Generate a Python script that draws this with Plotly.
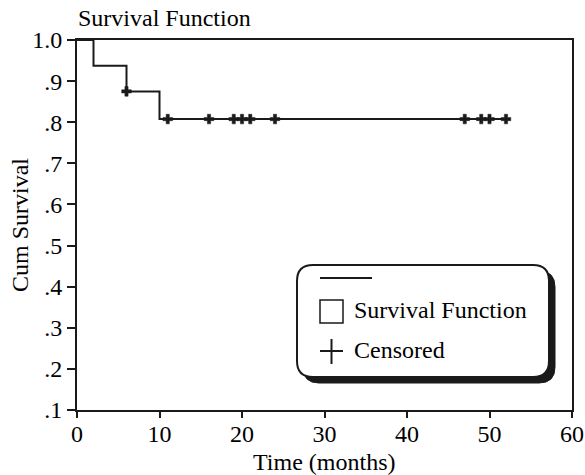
import plotly.graph_objects as go

# ---- data ----
step_time = [0, 2, 6, 10, 52]
step_surv = [1.0, 0.9375, 0.875, 0.8077, 0.8077]
censor_time = [6, 11, 16, 19, 20, 21, 24, 47, 49, 50, 52]
censor_surv = [0.875, 0.8077, 0.8077, 0.8077, 0.8077, 0.8077, 0.8077, 0.8077, 0.8077, 0.8077, 0.8077]
x_ticks = [0, 10, 20, 30, 40, 50, 60]
y_ticks = [0.1, 0.2, 0.3, 0.4, 0.5, 0.6, 0.7, 0.8, 0.9, 1.0]
y_ticktext = [".1", ".2", ".3", ".4", ".5", ".6", ".7", ".8", ".9", "1.0"]

W, H = 585, 475
L, R, T, B = 77, 13, 40, 65
PW, PH = W - L - R, H - T - B
FONT = "Liberation Serif"
FS = 24
INK = "#1a1a1a"


def px(p):
    return (p - L) / PW


def py(p):
    return (H - B - p) / PH


def rrect(x0, y0, x1, y1, r):
    pts = [
        f"M {px(x0 + r)},{py(y0)}",
        f"L {px(x1 - r)},{py(y0)}",
        f"Q {px(x1)},{py(y0)} {px(x1)},{py(y0 + r)}",
        f"L {px(x1)},{py(y1 - r)}",
        f"Q {px(x1)},{py(y1)} {px(x1 - r)},{py(y1)}",
        f"L {px(x0 + r)},{py(y1)}",
        f"Q {px(x0)},{py(y1)} {px(x0)},{py(y1 - r)}",
        f"L {px(x0)},{py(y0 + r)}",
        f"Q {px(x0)},{py(y0)} {px(x0 + r)},{py(y0)}",
        "Z",
    ]
    return " ".join(pts)


fig = go.Figure()
fig.add_trace(go.Scatter(
    x=step_time, y=step_surv, mode="lines", line_shape="hv",
    line=dict(color=INK, width=2), showlegend=False, hoverinfo="skip",
))
fig.add_trace(go.Scatter(
    x=censor_time, y=censor_surv, mode="markers",
    marker=dict(symbol="cross", size=8, color=INK, line=dict(color=INK, width=0.5)),
    showlegend=False, hoverinfo="skip", cliponaxis=False,
))

shapes = []
# legend shadow and box
shapes.append(dict(type="path", xref="paper", yref="paper",
                   path=rrect(303, 271, 555, 383, 16), fillcolor=INK,
                   line=dict(color=INK, width=1), layer="above"))
shapes.append(dict(type="path", xref="paper", yref="paper",
                   path=rrect(297, 265, 549, 377, 16), fillcolor="white",
                   line=dict(color=INK, width=2), layer="above"))
# legend line sample
shapes.append(dict(type="line", xref="paper", yref="paper",
                   x0=px(320), x1=px(372), y0=py(278), y1=py(278),
                   line=dict(color=INK, width=2), layer="above"))
# legend square
shapes.append(dict(type="rect", xref="paper", yref="paper",
                   x0=px(320), x1=px(343), y0=py(300), y1=py(323),
                   line=dict(color=INK, width=1.5), fillcolor="white", layer="above"))
# legend plus
shapes.append(dict(type="line", xref="paper", yref="paper",
                   x0=px(320), x1=px(343), y0=py(351), y1=py(351),
                   line=dict(color=INK, width=2), layer="above"))
shapes.append(dict(type="line", xref="paper", yref="paper",
                   x0=px(331.5), x1=px(331.5), y0=py(339), y1=py(364),
                   line=dict(color=INK, width=2), layer="above"))

annotations = [
    dict(text="Survival Function", xref="paper", yref="paper", x=px(76), y=py(18),
         xanchor="left", yanchor="middle", showarrow=False,
         font=dict(family=FONT, size=FS, color="black")),
    dict(text="Time (months)", xref="paper", yref="paper", x=px(324), y=py(462),
         xanchor="center", yanchor="middle", showarrow=False,
         font=dict(family=FONT, size=FS, color="black")),
    dict(text="Cum Survival", xref="paper", yref="paper", x=px(20), y=0.5,
         xanchor="center", yanchor="middle", showarrow=False, textangle=-90,
         font=dict(family=FONT, size=FS, color="black")),
    dict(text="Survival Function", xref="paper", yref="paper", x=px(352), y=py(310),
         xanchor="left", yanchor="middle", showarrow=False,
         font=dict(family=FONT, size=FS, color="black")),
    dict(text="Censored", xref="paper", yref="paper", x=px(352), y=py(350),
         xanchor="left", yanchor="middle", showarrow=False,
         font=dict(family=FONT, size=FS, color="black")),
]

fig.update_layout(
    width=W, height=H, autosize=False,
    margin=dict(l=L, r=R, t=T, b=B, pad=0, autoexpand=False),
    paper_bgcolor="white", plot_bgcolor="white",
    font=dict(family=FONT, size=FS, color="black"),
    shapes=shapes, annotations=annotations,
    xaxis=dict(range=[0, 60], tickvals=x_ticks, ticks="outside", ticklen=6,
               tickwidth=2, tickcolor=INK, showline=True, linewidth=2,
               linecolor=INK, mirror=True, showgrid=False, zeroline=False,
               automargin=False, ticklabelstandoff=-5,
               tickfont=dict(family=FONT, size=FS, color="black")),
    yaxis=dict(range=[0.1, 1.0], tickvals=y_ticks, ticktext=y_ticktext,
               ticks="outside", ticklen=8, tickwidth=2, tickcolor=INK,
               showline=True, linewidth=2, linecolor=INK, mirror=True,
               showgrid=False, zeroline=False, automargin=False,
               tickfont=dict(family=FONT, size=FS, color="black")),
)

fig.write_html("out.html",
               config={"displayModeBar": False, "responsive": False},
               post_script="document.body.style.margin='0';document.body.style.overflow='hidden';")
